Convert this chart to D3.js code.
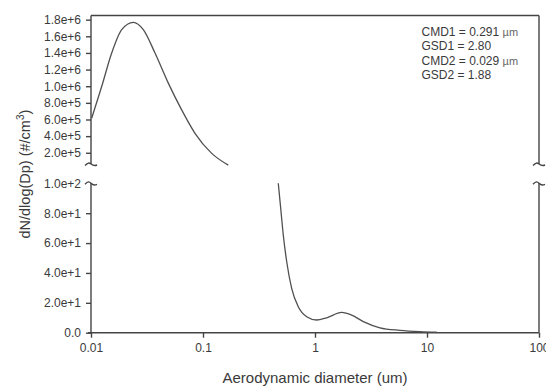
<!DOCTYPE html>
<html>
<head>
<meta charset="utf-8">
<script src="https://cdn.jsdelivr.net/npm/d3@7"></script>
<style>
body{margin:0;background:#fff;}
text{font-family:"Liberation Sans",Arial,sans-serif;fill:#3a3a3a;}
</style>
</head>
<body>
<svg id="chart" width="546" height="387"></svg>
<script>
// ---- data ----
const upperDiam = [0.01014,0.01246,0.0153,0.0188,0.02387,0.02931,0.03728,0.049,0.0645,0.0848,0.1196,0.1682];
const upperConc = [6.15e5,9.96e5,1.399e6,1.68e6,1.768e6,1.68e6,1.399e6,1.037e6,7.15e5,4.34e5,1.93e5,5.2e4];
const lowerDiam = [0.47,0.494,0.521,0.559,0.619,0.709,0.843,1.035,1.271,1.73,2.127,2.7,3.8,5.74,8.67,12.2];
const lowerConc = [100,83.3,65.4,47.5,29.7,17.4,10.7,8.5,10.0,13.6,11.8,7.4,3.3,1.6,0.7,0.3];
const xTicks = [0.01,0.1,1,10,100];
const xTickLabels = ["0.01","0.1","1","10","100"];
const upperTicks = [2e5,4e5,6e5,8e5,1e6,1.2e6,1.4e6,1.6e6,1.8e6];
const upperTickLabels = ["2.0e+5","4.0e+5","6.0e+5","8.0e+5","1.0e+6","1.2e+6","1.4e+6","1.6e+6","1.8e+6"];
const lowerTicks = [0,20,40,60,80,100];
const lowerTickLabels = ["0.0","2.0e+1","4.0e+1","6.0e+1","8.0e+1","1.0e+2"];
const annotations = [["CMD1 = 0.291 ","\u00b5m"],["GSD1 = 2.80",""],["CMD2 = 0.029 ","\u00b5m"],["GSD2 = 1.88",""]];

// ---- layout ----
const L=91, R=539, T=15.5, B=332.7, brkU=164, brkL=183.3;
const svg=d3.select("#chart");
const x=d3.scaleLog().domain([0.01,100]).range([L,R]);
const yU=d3.scaleLinear().domain([6.5e4,1.85e6]).range([brkU,T]);
const yL=d3.scaleLinear().domain([0,100]).range([B,brkL]);
const axisColor="#444";

// frame lines
const g=svg.append("g").attr("stroke",axisColor).attr("stroke-width",1.4).attr("fill","none");
g.append("line").attr("x1",L).attr("x2",R).attr("y1",T).attr("y2",T);
[L,R].forEach(xx=>{
  g.append("line").attr("x1",xx).attr("x2",xx).attr("y1",T).attr("y2",brkU);
  g.append("line").attr("x1",xx).attr("x2",xx).attr("y1",brkL).attr("y2",B);
  // break squiggles
  g.append("path").attr("d",`M${xx-6},${brkU+1.5} C${xx-3},${brkU-1.5} ${xx-2},${brkU-1.5} ${xx},${brkU} S${xx+4},${brkU+2} ${xx+6},${brkU+1}`);
  g.append("path").attr("d",`M${xx-6},${brkL+1} C${xx-3},${brkL-2} ${xx-2},${brkL-2} ${xx},${brkL} S${xx+4},${brkL+2} ${xx+6},${brkL+1}`);
});

// x axis
const xa=svg.append("g").attr("transform",`translate(0,${B})`)
  .call(d3.axisBottom(x).tickValues(xTicks).tickFormat((d,i)=>xTickLabels[i]).tickSize(5).tickPadding(6));
// y axes
const ya=svg.append("g").attr("transform",`translate(${L},0)`)
  .call(d3.axisLeft(yU).tickValues(upperTicks).tickFormat((d,i)=>upperTickLabels[i]).tickSize(5).tickPadding(5));
const yb=svg.append("g").attr("transform",`translate(${L},0)`)
  .call(d3.axisLeft(yL).tickValues(lowerTicks).tickFormat((d,i)=>lowerTickLabels[i]).tickSize(5).tickPadding(5));
[xa,ya,yb].forEach(a=>{
  a.select(".domain").remove();
  a.selectAll(".tick line").attr("stroke",axisColor).attr("stroke-width",1.4);
  a.selectAll(".tick text").style("font-family","'Liberation Sans',Arial,sans-serif").style("font-size","12px").attr("fill","#3a3a3a");
});
xa.append("line").attr("x1",L-3).attr("x2",R).attr("stroke",axisColor).attr("stroke-width",1.4);
// remove 1.0e+2 tick line (break instead)
yb.selectAll(".tick").filter(d=>d===100).select("line").remove();

// curves
const line=d3.line().curve(d3.curveMonotoneX);
svg.append("path").attr("fill","none").attr("stroke","#505050").attr("stroke-width",1.3)
  .attr("d",line(upperDiam.map((d,i)=>[x(d),yU(upperConc[i])])));
svg.append("path").attr("fill","none").attr("stroke","#505050").attr("stroke-width",1.3)
  .attr("d",line(lowerDiam.map((d,i)=>[x(d),yL(lowerConc[i])])));

// annotations
annotations.forEach((a,i)=>{
  const t=svg.append("text").attr("x",421.5).attr("y",36+i*14.3).style("font-size","12px");
  t.append("tspan").text(a[0]);
  if(a[1]) t.append("tspan").text(a[1]).style("font-size","11px").attr("fill","#666");
});

// axis titles
svg.append("text").attr("x",(L+R)/2).attr("y",383).attr("text-anchor","middle").style("font-size","15px").text("Aerodynamic diameter (um)");
const yt=svg.append("text").attr("transform",`translate(30,${(T+B)/2}) rotate(-90)`).attr("text-anchor","middle").style("font-size","14.5px");
yt.append("tspan").text("dN/dlog(Dp) (#/cm");
yt.append("tspan").text("3").attr("dy",-6).style("font-size","10px");
yt.append("tspan").text(")").attr("dy",6);
</script>
</body>
</html>
